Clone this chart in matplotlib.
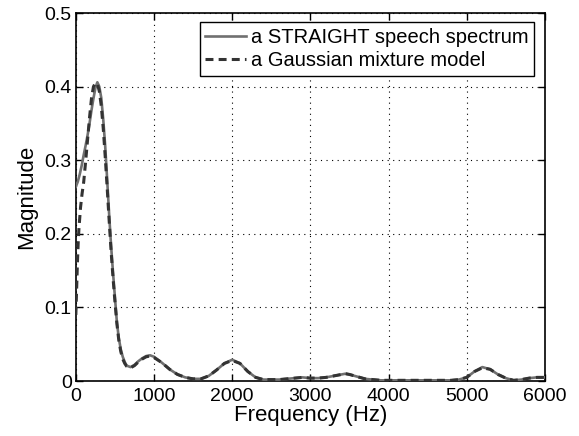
import matplotlib
matplotlib.use("Agg")
import matplotlib.pyplot as plt

plt.rcParams['font.family'] = ['Liberation Sans', 'DejaVu Sans']

# STRAIGHT speech spectrum
freq_s = [0, 25, 50, 75, 100, 125, 150, 175, 200, 225, 250, 275, 300, 325, 350,
          375, 400, 425, 450, 475, 500, 525, 550, 575, 600, 625, 650, 700, 750,
          800, 850, 900, 950, 1000, 1100, 1200, 1300, 1400, 1500, 1600, 1700,
          1800, 1900, 2000, 2100, 2200, 2300, 2400, 2500, 2600, 2700, 2800,
          2900, 3000, 3100, 3200, 3300, 3400, 3450, 3500, 3600, 3700, 3800,
          3900, 4000, 4200, 4400, 4600, 4800, 4900, 5000, 5100, 5200, 5300,
          5400, 5500, 5600, 5700, 5800, 5900, 6000]
mag_s = [0.264, 0.271, 0.281, 0.293, 0.307, 0.320, 0.334, 0.350, 0.368, 0.384,
         0.398, 0.406, 0.400, 0.385, 0.356, 0.320, 0.275, 0.228, 0.185, 0.148,
         0.114, 0.080, 0.058, 0.043, 0.033, 0.026, 0.021, 0.019, 0.022, 0.027,
         0.031, 0.034, 0.035, 0.033, 0.025, 0.016, 0.009, 0.005, 0.003, 0.003,
         0.007, 0.015, 0.024, 0.029, 0.024, 0.013, 0.005, 0.002, 0.002, 0.002,
         0.003, 0.004, 0.005, 0.004, 0.004, 0.005, 0.007, 0.009, 0.010, 0.009,
         0.006, 0.003, 0.002, 0.001, 0.001, 0.001, 0.001, 0.001, 0.001, 0.002,
         0.005, 0.013, 0.019, 0.016, 0.009, 0.004, 0.001, 0.002, 0.004, 0.005,
         0.005]

# Gaussian mixture model
freq_g = [0, 10, 20, 30, 40, 60, 80, 100, 125, 150, 175, 200, 225, 250, 275,
          300, 325, 350, 375, 400, 425, 450, 475, 500, 525, 550, 575, 600, 625,
          650, 700, 750, 800, 850, 900, 950, 1000, 1100, 1200, 1300, 1400, 1500,
          1600, 1700, 1800, 1900, 2000, 2100, 2200, 2300, 2400, 2500, 2600,
          2700, 2800, 2900, 3000, 3100, 3200, 3300, 3400, 3450, 3500, 3600,
          3700, 3800, 3900, 4000, 4200, 4400, 4600, 4800, 4900, 5000, 5100,
          5200, 5300, 5400, 5500, 5600, 5700, 5800, 5900, 6000]
mag_g = [0.090, 0.125, 0.160, 0.188, 0.208, 0.236, 0.255, 0.270, 0.298, 0.328,
         0.358, 0.384, 0.400, 0.405, 0.404, 0.394, 0.374, 0.344, 0.306, 0.264,
         0.220, 0.178, 0.141, 0.108, 0.078, 0.055, 0.040, 0.030, 0.024, 0.020,
         0.018, 0.021, 0.026, 0.030, 0.033, 0.034, 0.032, 0.025, 0.016, 0.009,
         0.005, 0.003, 0.003, 0.007, 0.015, 0.024, 0.028, 0.024, 0.013, 0.005,
         0.002, 0.002, 0.002, 0.003, 0.004, 0.005, 0.004, 0.004, 0.005, 0.007,
         0.009, 0.010, 0.009, 0.006, 0.003, 0.002, 0.001, 0.001, 0.001, 0.001,
         0.001, 0.001, 0.002, 0.005, 0.013, 0.018, 0.016, 0.009, 0.004, 0.001,
         0.002, 0.004, 0.005, 0.005]

xticks = [0, 1000, 2000, 3000, 4000, 5000, 6000]
yticks = [0, 0.1, 0.2, 0.3, 0.4, 0.5]
ytick_labels = ['0', '0.1', '0.2', '0.3', '0.4', '0.5']

tfs = 14     # tick labels
lfs = 16     # axis labels
gfs = 14.5   # legend

fig = plt.figure(figsize=(5.79, 4.36), dpi=100)
ax = fig.add_axes([0.131, 0.126, 0.810, 0.844])

ax.plot(freq_s, mag_s, color='#707070', lw=1.9, ls='-',
        label='a STRAIGHT speech spectrum', zorder=3)
ax.plot(freq_g, mag_g, color='#333333', lw=2.2, dashes=(2.6, 1.7),
        label='a Gaussian mixture model', zorder=4)

ax.set_xlim(0, 6000)
ax.set_ylim(0, 0.5)
ax.set_xticks(xticks)
ax.set_xticklabels([str(t) for t in xticks])
ax.set_yticks(yticks)
ax.set_yticklabels(ytick_labels)
ax.grid(True, color='black', ls=(0, (1, 4)), lw=0.8)
ax.tick_params(direction='in', length=5, width=1, labelsize=tfs,
               top=True, right=True)
ax.tick_params(axis='x', pad=5)
ax.tick_params(axis='y', pad=3)
for s in ax.spines.values():
    s.set_linewidth(1.2)

ax.set_xlabel('Frequency (Hz)', fontsize=lfs, labelpad=0)
ax.set_ylabel('Magnitude', fontsize=lfs, labelpad=5)

leg = ax.legend(loc='upper right', bbox_to_anchor=(0.977, 0.975), fontsize=gfs,
                fancybox=False, framealpha=1, edgecolor='black',
                handlelength=2.0, handletextpad=0.25, labelspacing=0.22,
                borderpad=0.28, borderaxespad=0)
leg.get_frame().set_linewidth(1.0)

plt.savefig('out.png', dpi=100)
